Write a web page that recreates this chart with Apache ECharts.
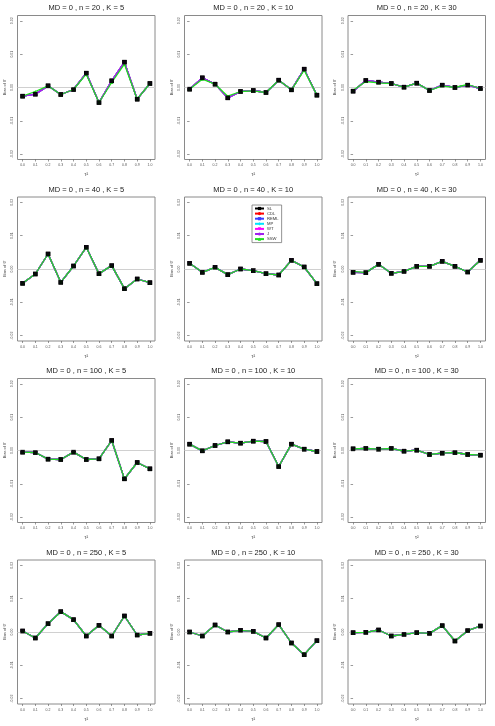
<!DOCTYPE html>
<html>
<head>
<meta charset="utf-8">
<script src="https://cdn.jsdelivr.net/npm/echarts@6/dist/echarts.min.js"></script>
<style>
  html, body { margin: 0; padding: 0; background: #fff; }
  #chart { width: 495px; height: 726px; }
</style>
</head>
<body>
<div id="chart"></div>
<script>
// tau^2 grid and tick labels
const tau2 = [0, 0.1, 0.2, 0.3, 0.4, 0.5, 0.6, 0.7, 0.8, 0.9, 1.0];
const yTicks = [-0.02, -0.01, 0, 0.01, 0.02];
const nValues = [20, 40, 100, 250];
const kValues = [5, 10, 30];
const methods = ['SL', 'CDL', 'REML', 'MP', 'WT', 'J', 'SSW'];

// bias of theta, SL (others overlap it) - one array per panel
const n20k5 = [-0.0026, -0.0020, 0.0005, -0.0021, -0.0006, 0.0043, -0.0045, 0.0020, 0.0076, -0.0035, 0.0012];
const n20k10 = [-0.0005, 0.0029, 0.0010, -0.0031, -0.0012, -0.0009, -0.0015, 0.0022, -0.0007, 0.0055, -0.0023];
const n20k30 = [-0.0011, 0.0021, 0.0016, 0.0012, 0.0001, 0.0013, -0.0009, 0.0007, 0.0000, 0.0007, -0.0003];
const n40k5 = [-0.0043, -0.0015, 0.0045, -0.0040, 0.0009, 0.0065, -0.0014, 0.0010, -0.0059, -0.0030, -0.0041];
const n40k10 = [0.0017, -0.0010, 0.0005, -0.0017, 0.0000, -0.0005, -0.0014, -0.0018, 0.0026, 0.0006, -0.0044];
const n40k30 = [-0.0010, -0.0011, 0.0014, -0.0013, -0.0007, 0.0008, 0.0008, 0.0023, 0.0008, -0.0009, 0.0026];
const n100k5 = [-0.0005, -0.0006, -0.0026, -0.0027, -0.0005, -0.0027, -0.0025, 0.0030, -0.0085, -0.0036, -0.0055];
const n100k10 = [0.0019, -0.0001, 0.0015, 0.0026, 0.0022, 0.0028, 0.0027, -0.0048, 0.0019, 0.0004, -0.0003];
const n100k30 = [0.0005, 0.0006, 0.0004, 0.0006, -0.0002, 0.0001, -0.0012, -0.0008, -0.0006, -0.0012, -0.0014];
const n250k5 = [0.0003, -0.0018, 0.0025, 0.0061, 0.0037, -0.0012, 0.0020, -0.0012, 0.0048, -0.0009, -0.0004];
const n250k10 = [0.0000, -0.0012, 0.0021, 0.0000, 0.0005, 0.0002, -0.0018, 0.0022, -0.0033, -0.0068, -0.0026];
const n250k30 = [-0.0002, -0.0001, 0.0006, -0.0012, -0.0007, -0.0002, -0.0004, 0.0019, -0.0027, 0.0004, 0.0018];

// SSW where it visibly departs from the others
const n20k5SSW = [-0.0026, -0.0012, 0.0005, -0.0021, -0.0006, 0.0040, -0.0045, 0.0015, 0.0070, -0.0035, 0.0012];
const n20k10SSW = [-0.0005, 0.0025, 0.0010, -0.0026, -0.0012, -0.0010, -0.0015, 0.0022, -0.0007, 0.0052, -0.0023];
const n20k30SSW = [-0.0008, 0.0018, 0.0014, 0.0012, 0.0001, 0.0013, -0.0009, 0.0005, 0.0000, 0.0009, -0.0003];
const n40k30SSW = [-0.0007, -0.0011, 0.0014, -0.0013, -0.0007, 0.0008, 0.0008, 0.0023, 0.0008, -0.0009, 0.0026];

const panelBias = [
  n20k5, n20k10, n20k30,
  n40k5, n40k10, n40k30,
  n100k5, n100k10, n100k30,
  n250k5, n250k10, n250k30,
];
const panelSSW = [
  n20k5SSW, n20k10SSW, n20k30SSW,
  n40k5, n40k10, n40k30SSW,
  n100k5, n100k10, n100k30,
  n250k5, n250k10, n250k30,
];

const methodStyle = {
  SL: { color: '#000000', symbol: 'rect', size: 4.5 },
  CDL: { color: '#ff0000', symbol: 'circle', size: 3 },
  REML: { color: '#3b3bff', symbol: 'rect', size: 3 },
  MP: { color: '#00e5ff', symbol: 'diamond', size: 3.5 },
  WT: { color: '#ff00ff', symbol: 'triangle', size: 3, rotate: 180 },
  J: { color: '#a020f0', symbol: 'circle', size: 2.5 },
  SSW: { color: '#1fe01f', symbol: 'triangle', size: 3 },
};

const colLeft = [17.5, 184.5, 348];
const boxW = 137.5;
const boxH = 144;
const rowTop = 15.5;
const rowStep = 181.5;
const font = 'Liberation Sans, Arial, sans-serif';

const grids = [];
const xAxes = [];
const yAxes = [];
const series = [];
const graphics = [];

nValues.forEach((n, r) => {
  kValues.forEach((k, c) => {
    const p = r * 3 + c;
    const left = colLeft[c];
    const top = rowTop + r * rowStep;
    grids.push({
      left, top, width: boxW, height: boxH,
      show: true, borderColor: '#8a8a8a', borderWidth: 1,
    });
    graphics.push({
      type: 'text',
      x: left + boxW / 2,
      y: top - 7.5,
      style: {
        text: 'MD = 0 , n = ' + n + ' , K = ' + k,
        fontSize: 7.5, fontFamily: font, fill: '#222',
        textAlign: 'center', textVerticalAlign: 'middle',
      },
    });
    xAxes.push({
      gridIndex: p, type: 'value', min: -0.04, max: 1.04,
      axisLine: { show: false, onZero: false },
      splitLine: { show: false },
      axisTick: { show: true, customValues: tau2, length: 2, lineStyle: { color: '#555', width: 0.6 } },
      axisLabel: {
        customValues: tau2, formatter: (v) => v.toFixed(1),
        fontSize: 3.5, color: '#555', margin: 4, fontFamily: font,
      },
      name: 'τ²', nameLocation: 'middle', nameGap: 13,
      nameTextStyle: { fontSize: 5, color: '#444', fontFamily: font },
    });
    yAxes.push({
      gridIndex: p, type: 'value', min: -0.0216, max: 0.0216,
      axisLine: { show: false },
      splitLine: { show: false },
      axisTick: { show: true, customValues: yTicks, length: 2.5, lineStyle: { color: '#555', width: 0.6 } },
      axisLabel: {
        customValues: yTicks, formatter: (v) => v.toFixed(2), rotate: 90,
        fontSize: 3.5, color: '#555', margin: 3, fontFamily: font,
      },
      name: 'Bias of θ\u0302', nameLocation: 'middle', nameGap: 11, nameRotate: 90,
      nameTextStyle: { fontSize: 4, color: '#444', fontFamily: font },
    });
    methods.forEach((m, mi) => {
      const st = methodStyle[m];
      const vals = m === 'SSW' ? panelSSW[p] : panelBias[p];
      const s = {
        type: 'line', name: m,
        xAxisIndex: p, yAxisIndex: p,
        data: tau2.map((x, i) => [x, vals[i]]),
        symbol: st.symbol, symbolSize: st.size, symbolRotate: st.rotate || 0,
        showAllSymbol: true,
        lineStyle: { color: st.color, width: 1.3 },
        itemStyle: { color: st.color },
        z: 3 + mi,
        animation: false,
        emphasis: { disabled: true },
      };
      if (m === 'SL') {
        s.markLine = {
          silent: true, symbol: 'none', animation: false,
          label: { show: false },
          lineStyle: { color: '#d0d0d0', width: 1.2, type: 'solid' },
          data: [{ yAxis: 0 }],
        };
      }
      series.push(s);
    });
    // SL points drawn last, they sit on top of the lines
    series.push({
      type: 'scatter', name: 'SL',
      xAxisIndex: p, yAxisIndex: p,
      data: tau2.map((x, i) => [x, panelBias[p][i]]),
      symbol: 'rect', symbolSize: 4.5,
      itemStyle: { color: '#000', opacity: 0.92 },
      z: 12, animation: false, silent: true,
    });
  });
});

const chart = echarts.init(document.getElementById('chart'), null, { renderer: 'canvas' });
chart.setOption({
  backgroundColor: '#fff',
  animation: false,
  grid: grids,
  xAxis: xAxes,
  yAxis: yAxes,
  graphic: graphics,
  legend: {
    data: methods,
    orient: 'vertical',
    left: 252, top: 205,
    itemWidth: 9, itemHeight: 4, itemGap: 1.1,
    padding: [1.5, 3, 1.5, 2],
    borderColor: '#777', borderWidth: 0.8,
    backgroundColor: '#fff',
    textStyle: { fontSize: 4.2, color: '#333', fontFamily: font, padding: [0, 0, 0, -2] },
    selectedMode: false,
  },
  series,
});
</script>
</body>
</html>
